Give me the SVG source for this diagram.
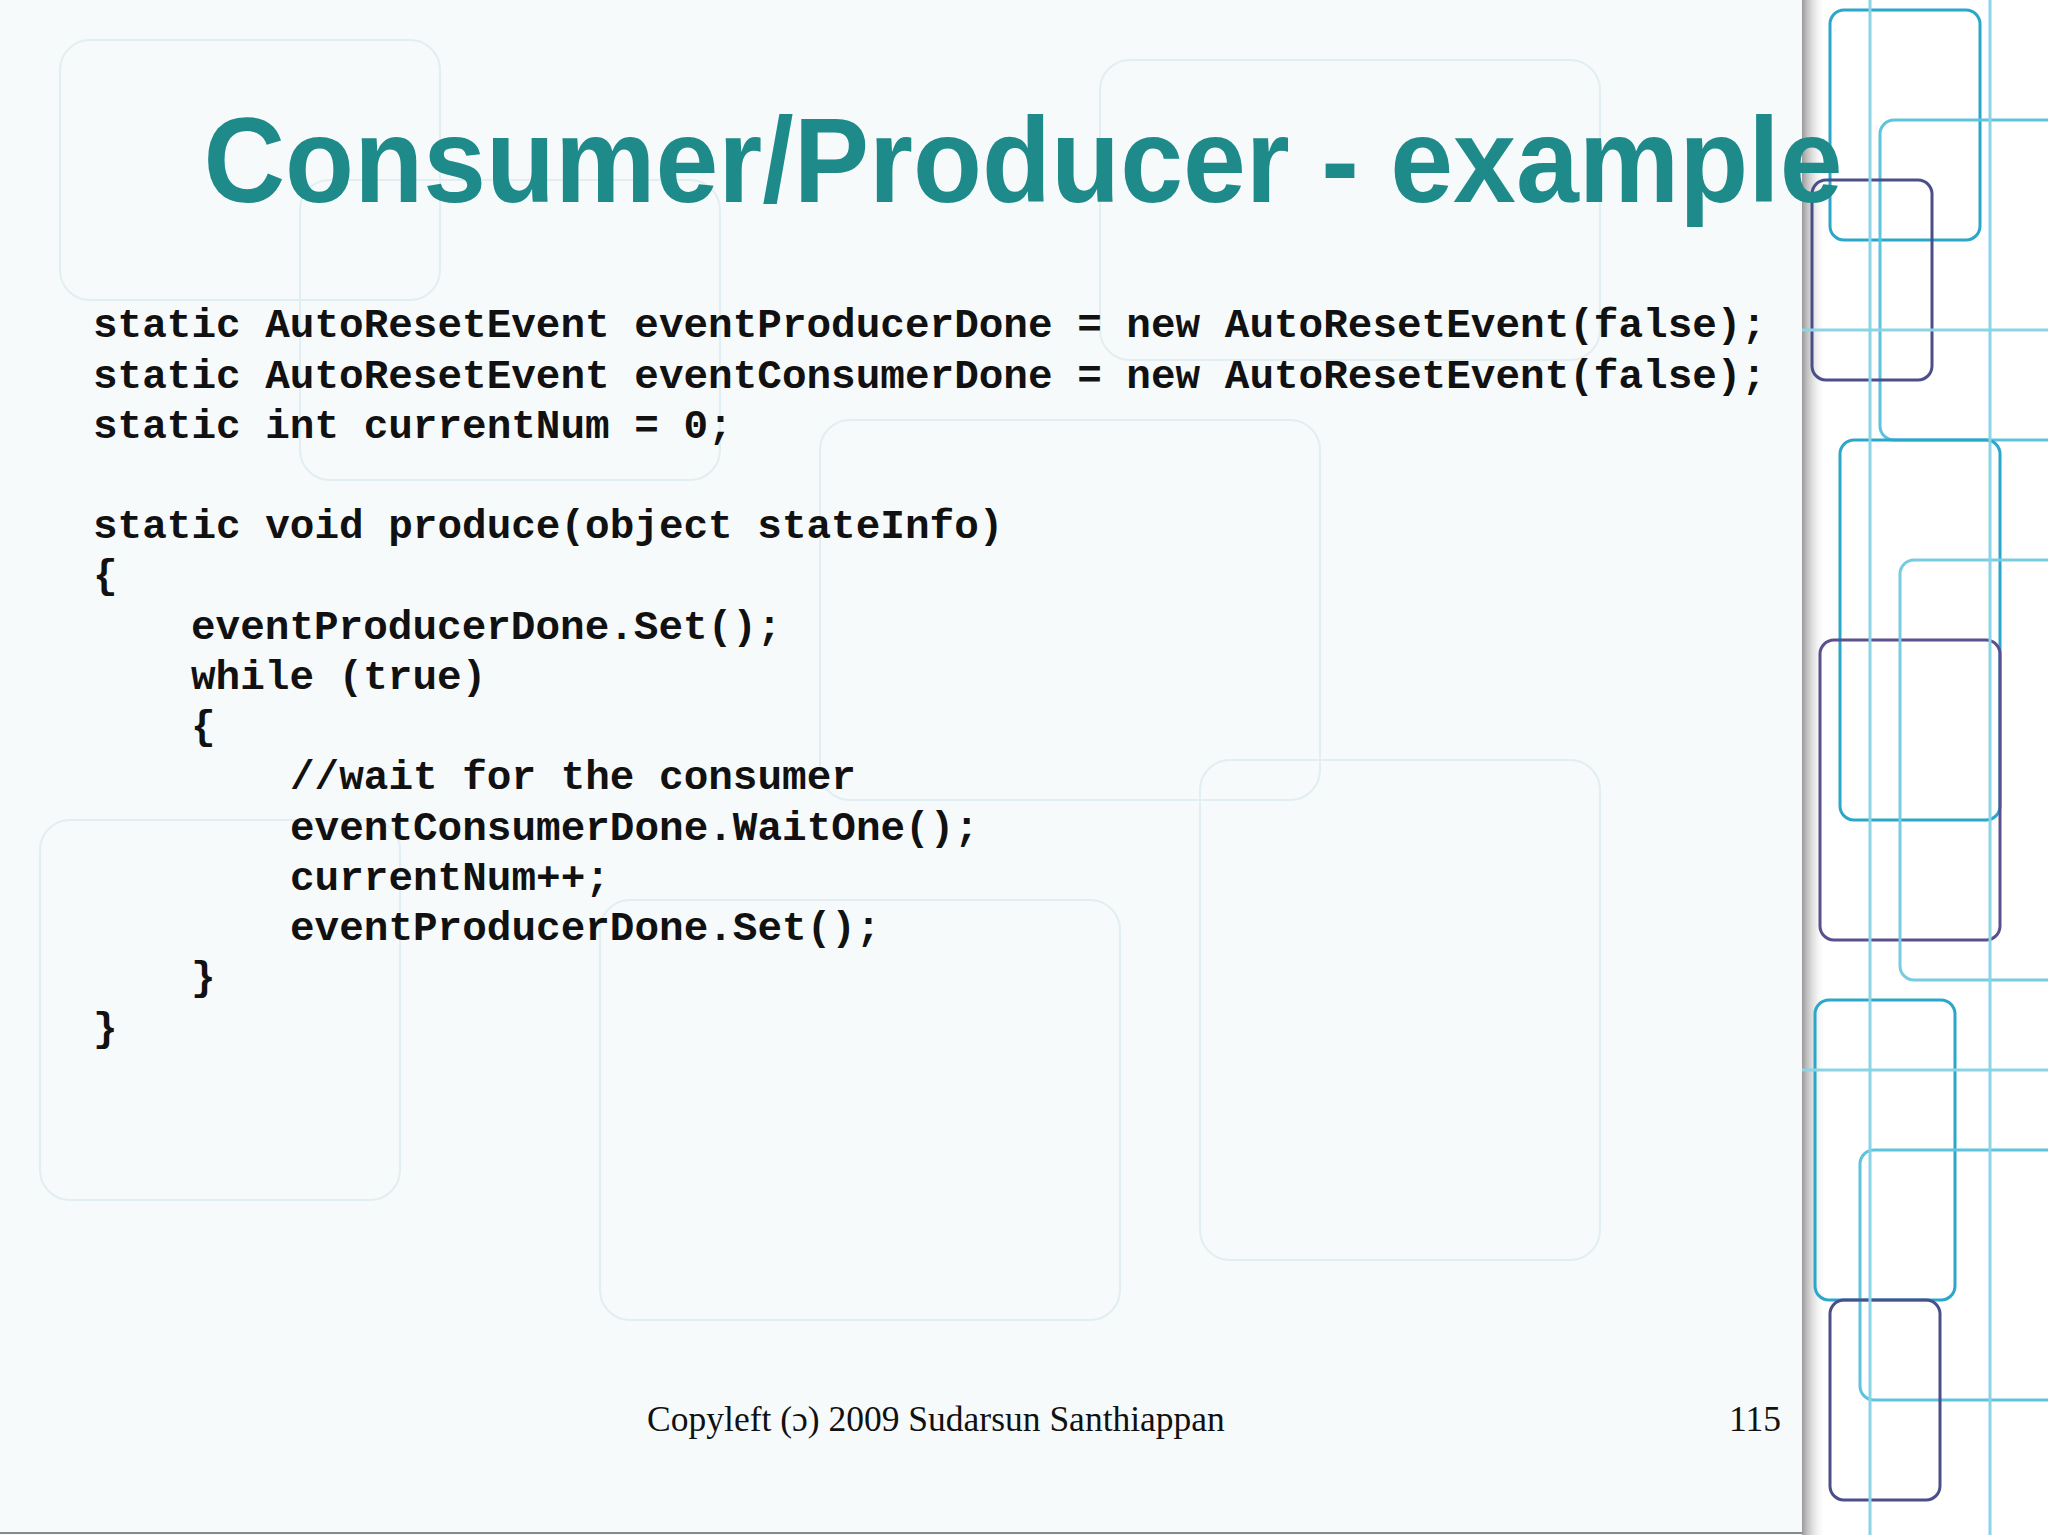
<svg xmlns="http://www.w3.org/2000/svg" width="2048" height="1535" viewBox="0 0 2048 1535">
<defs>
<style>
.code{font-family:"Liberation Mono",monospace;font-weight:bold;font-size:41px;fill:#111;white-space:pre}
.deco{fill:none;stroke-width:3}
.faint{fill:none;stroke:#e2eef1;stroke-width:2}
</style>
<linearGradient id="sh" x1="0" x2="1" y1="0" y2="0">
<stop offset="0" stop-color="#999"/><stop offset="1" stop-color="#fff" stop-opacity="0"/>
</linearGradient>
</defs>
<rect width="2048" height="1535" fill="#f7fafb"/>
<g id="bgpattern">
<rect class="faint" x="60" y="40" width="380" height="260" rx="30"/>
<rect class="faint" x="300" y="180" width="420" height="300" rx="30"/>
<rect class="faint" x="820" y="420" width="500" height="380" rx="30"/>
<rect class="faint" x="40" y="820" width="360" height="380" rx="30"/>
<rect class="faint" x="600" y="900" width="520" height="420" rx="30"/>
<rect class="faint" x="1200" y="760" width="400" height="500" rx="30"/>
<rect class="faint" x="1100" y="60" width="500" height="300" rx="30"/>
</g>
<g id="rightpanel">
<rect x="1802" y="0" width="246" height="1535" fill="#fff"/>
<rect x="1802" y="0" width="24" height="1535" fill="url(#sh)"/>
<rect class="deco" stroke="#2aa7c9" x="1830" y="10" width="150" height="230" rx="14"/>
<rect class="deco" stroke="#5fc3dd" x="1880" y="120" width="200" height="320" rx="14"/>
<rect class="deco" stroke="#4a4f8a" x="1812" y="180" width="120" height="200" rx="14"/>
<rect class="deco" stroke="#2aa7c9" x="1840" y="440" width="160" height="380" rx="14"/>
<rect class="deco" stroke="#5a4f8f" x="1820" y="640" width="180" height="300" rx="14"/>
<rect class="deco" stroke="#78cce0" x="1900" y="560" width="180" height="420" rx="14"/>
<rect class="deco" stroke="#2aa7c9" x="1815" y="1000" width="140" height="300" rx="14"/>
<rect class="deco" stroke="#5fc3dd" x="1860" y="1150" width="220" height="250" rx="14"/>
<rect class="deco" stroke="#4a4f8a" x="1830" y="1300" width="110" height="200" rx="14"/>
<line class="deco" stroke="#8ad4e6" x1="1870" y1="0" x2="1870" y2="1535"/>
<line class="deco" stroke="#8ad4e6" x1="1990" y1="0" x2="1990" y2="1535"/>
<line class="deco" stroke="#8ad4e6" x1="1802" y1="330" x2="2048" y2="330"/>
<line class="deco" stroke="#8ad4e6" x1="1802" y1="1070" x2="2048" y2="1070"/>
</g>
<line x1="0" y1="1533" x2="1802" y2="1533" stroke="#888" stroke-width="2"/>
<g id="title">
<text x="1023" y="202" text-anchor="middle" font-family="Liberation Sans, sans-serif" font-weight="bold" font-size="120" fill="#1e8a8a" textLength="1639" lengthAdjust="spacingAndGlyphs">Consumer/Producer - example</text>
</g>
<g id="code">
<text class="code" x="93" y="337">static AutoResetEvent eventProducerDone = new AutoResetEvent(false);</text>
<text class="code" x="93" y="388">static AutoResetEvent eventConsumerDone = new AutoResetEvent(false);</text>
<text class="code" x="93" y="438">static int currentNum = 0;</text>
<text class="code" x="93" y="538">static void produce(object stateInfo)</text>
<text class="code" x="93" y="588">{</text>
<text class="code" x="191" y="639">eventProducerDone.Set();</text>
<text class="code" x="191" y="689">while (true)</text>
<text class="code" x="191" y="739">{</text>
<text class="code" x="290" y="789">//wait for the consumer</text>
<text class="code" x="290" y="840">eventConsumerDone.WaitOne();</text>
<text class="code" x="290" y="890">currentNum++;</text>
<text class="code" x="290" y="940">eventProducerDone.Set();</text>
<text class="code" x="191" y="990">}</text>
<text class="code" x="93" y="1041">}</text>
</g>
<g id="footer" font-family="Liberation Serif, serif" font-size="35.5" fill="#111">
<text x="936" y="1431" text-anchor="middle">Copyleft (ɔ) 2009 Sudarsun Santhiappan</text>
<text x="1781" y="1431" text-anchor="end">115</text>
</g>
</svg>
